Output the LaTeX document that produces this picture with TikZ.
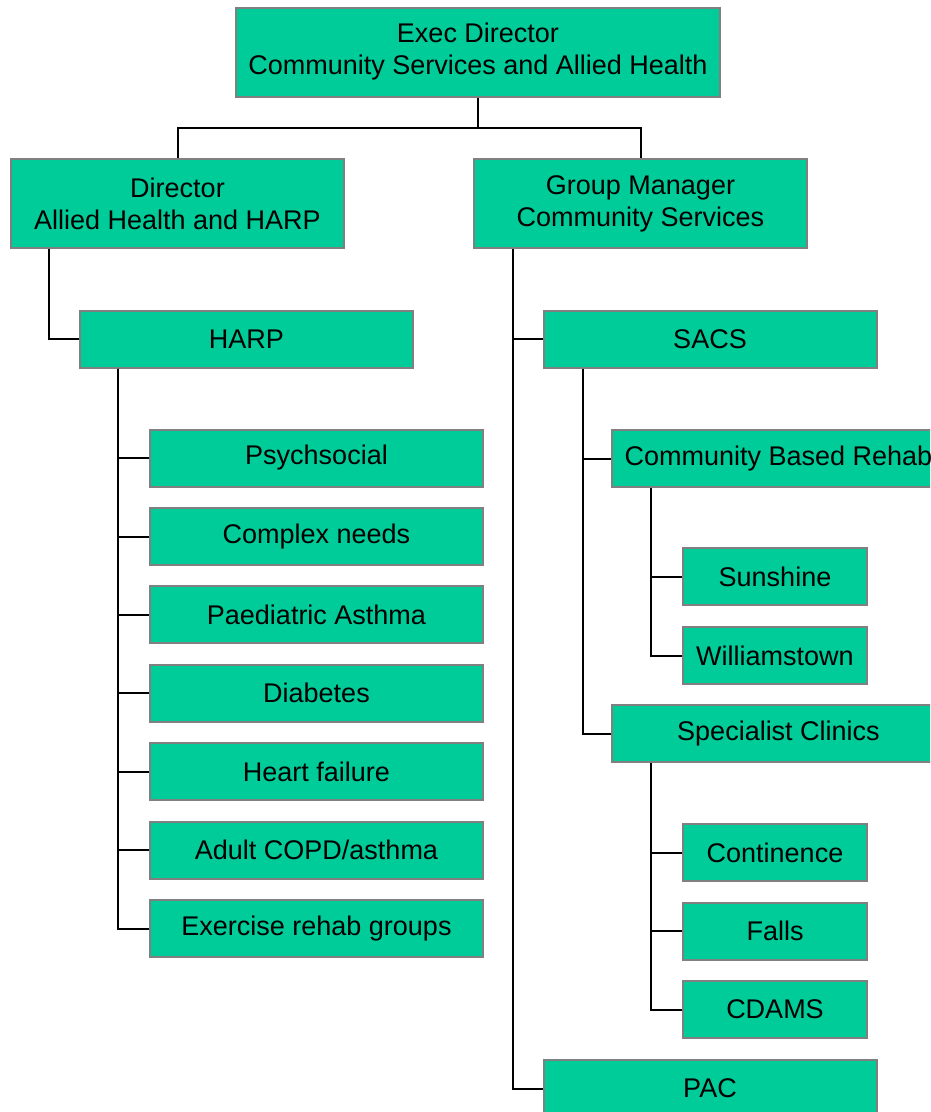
\documentclass[tikz,border=0pt]{standalone}
\usepackage{fontspec}
\setmainfont{Liberation Sans}
\definecolor{boxfill}{RGB}{0,204,153}
\definecolor{boxline}{RGB}{128,128,128}
\tikzset{
  orgbox/.style={draw=boxline, line width=2pt, fill=boxfill, inner sep=0pt,
    minimum width=333pt, minimum height=57pt, align=center,
    font=\fontsize{27}{32}\selectfont},
  bigbox/.style={orgbox, minimum height=89pt},
  smallbox/.style={orgbox, minimum width=184pt},
  link/.style={draw=black, line width=2pt}
}
\begin{document}
\begin{tikzpicture}[x=1pt,y=-1pt]
\useasboundingbox (0,0) rectangle (930,1112);
\clip (0,0) rectangle (930,1112);
% top levels
\node[bigbox, minimum width=484pt] (exec) at (478,52) {Exec Director\\Community Services and Allied Health};
\node[bigbox] (dir) at (177.5,203.5) {Director\\Allied Health and HARP};
\node[bigbox] (gm) at (640.5,203.5) {Group Manager\\Community Services};
\coordinate (j) at (478,128);
\draw[link] (exec.south) -- (j) -| (dir.north);
\draw[link] (j) -| (gm.north);
% HARP branch
\node[orgbox] (harp) at (246.5,339) {HARP};
\draw[link] ([xshift=39]dir.south west) |- (harp.west);
\node[orgbox] (h1) at (316.5,458) {Psychsocial};
\node[orgbox] (h2) at (316.5,536.5) {Complex needs};
\node[orgbox] (h3) at (316.5,614.5) {Paediatric Asthma};
\node[orgbox] (h4) at (316.5,693) {Diabetes};
\node[orgbox] (h5) at (316.5,771.5) {Heart failure};
\node[orgbox] (h6) at (316.5,850) {Adult COPD/asthma};
\node[orgbox] (h7) at (316.5,928.5) {Exercise rehab groups};
\foreach \n in {h1,h2,h3,h4,h5,h6,h7}
  \draw[link] ([xshift=39]harp.south west) |- (\n.west);
% Community services branch
\node[orgbox] (sacs) at (710,339) {SACS};
\node[orgbox] (pac) at (710,1088.5) {PAC};
\draw[link] ([xshift=40]gm.south west) |- (sacs.west);
\draw[link] ([xshift=40]gm.south west) |- (pac.west);
\node[orgbox] (cbr) at (778.5,458.5) {Community Based Rehab};
\node[orgbox] (spec) at (778.5,733.5) {Specialist Clinics};
\draw[link] ([xshift=40]sacs.south west) |- (cbr.west);
\draw[link] ([xshift=40]sacs.south west) |- (spec.west);
\node[smallbox] (sun) at (775,576.5) {Sunshine};
\node[smallbox] (wil) at (775,655.5) {Williamstown};
\draw[link] ([xshift=40]cbr.south west) |- (sun.west);
\draw[link] ([xshift=40]cbr.south west) |- (wil.west);
\node[smallbox] (con) at (775,852.5) {Continence};
\node[smallbox] (fal) at (775,931) {Falls};
\node[smallbox] (cda) at (775,1009.5) {CDAMS};
\draw[link] ([xshift=40]spec.south west) |- (con.west);
\draw[link] ([xshift=40]spec.south west) |- (fal.west);
\draw[link] ([xshift=40]spec.south west) |- (cda.west);
\end{tikzpicture}
\end{document}
